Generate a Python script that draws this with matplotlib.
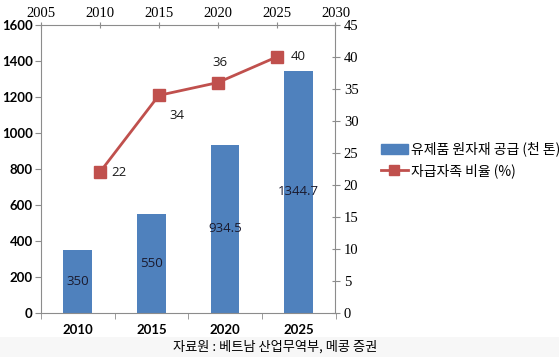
import matplotlib.pyplot as plt
from matplotlib.patches import Rectangle

# --- dados ---
anos = [2010, 2015, 2020, 2025]
rotulos_x = ['2010', '2015', '2020', '2025']
fornecimento = [350, 550, 934.5, 1344.7]
rotulos_barras = ['350', '550', '934.5', '1344.7']
autossuficiencia = [22, 34, 36, 40]

COR_BARRA = '#4f81bd'
COR_LINHA = '#c0504d'
COR_EIXO = '#8c8c8c'
KR = ['Noto Sans CJK KR', 'DejaVu Sans']

fig = plt.figure(figsize=(5.59, 3.57), dpi=100)
fig.patch.set_facecolor('white')
# faixa cinza clara da fonte
fig.patches.append(Rectangle((0, 0), 1, 1 - 337 / 357, transform=fig.transFigure,
                             facecolor='#f7f7f7', edgecolor='none', zorder=0))

pos = [41 / 559, 1 - 313 / 357, (335.5 - 41) / 559, (313 - 25) / 357]
ax1 = fig.add_axes(pos)
ax1.set_facecolor('none')

x = range(len(anos))
barras = ax1.bar(list(x), fornecimento, width=0.39, color=COR_BARRA, zorder=2)
for b, v, txt in zip(barras, fornecimento, rotulos_barras):
    ax1.text(b.get_x() + b.get_width() / 2, v / 2, txt, ha='center', va='center',
             fontsize=9.5, color='#1a1a2e', family='Open Sans', zorder=3)

ax1.set_xlim(-0.5, 3.5)
ax1.set_ylim(0, 1600)
ax1.set_yticks(range(0, 1601, 200))
ax1.set_xticks(list(x))
ax1.set_xticklabels(rotulos_x, fontsize=9.5, fontweight='bold', family='Lato')
ax1.set_xticks([-0.5, 0.5, 1.5, 2.5, 3.5], minor=True)
ax1.tick_params(axis='x', which='major', length=0, pad=8)
ax1.tick_params(axis='x', which='minor', length=4, color=COR_EIXO)
ax1.tick_params(axis='y', length=4, color=COR_EIXO, labelsize=9.5, pad=2)
for lbl in ax1.get_yticklabels():
    lbl.set_fontweight('bold')
    lbl.set_family('Lato')
for s in ax1.spines.values():
    s.set_color(COR_EIXO)
    s.set_linewidth(0.8)
ax1.spines['top'].set_visible(False)
ax1.spines['right'].set_visible(False)

# eixo secundário (anos no topo, % à direita)
ax2 = fig.add_axes(pos, frameon=False)
ax2.plot(anos, autossuficiencia, color=COR_LINHA, linewidth=2, marker='s',
         markersize=8, markerfacecolor=COR_LINHA, markeredgecolor=COR_LINHA, zorder=4)
ax2.set_xlim(2005, 2030)
ax2.set_ylim(0, 45)
ax2.set_xticks(range(2005, 2031, 5))
ax2.set_yticks(range(0, 46, 5))
ax2.xaxis.tick_top()
ax2.yaxis.tick_right()
ax2.tick_params(axis='x', direction='inout', length=5, color=COR_EIXO, labelsize=10.5, pad=1)
ax2.tick_params(axis='y', direction='inout', length=6, color=COR_EIXO, labelsize=10.5, pad=3)
for lbl in ax2.get_xticklabels() + ax2.get_yticklabels():
    lbl.set_family('Liberation Serif')
ax2.axhline(45, color=COR_EIXO, linewidth=0.8, clip_on=False)
ax2.axvline(2030, color=COR_EIXO, linewidth=0.8, clip_on=False)

# rótulos da linha
deslocamentos = [(8, 0, 'left', 'center'), (8, -10, 'left', 'top'),
                 (2, 10, 'center', 'bottom'), (10, 0, 'left', 'center')]
for a, v, (dx, dy, ha, va) in zip(anos, autossuficiencia, deslocamentos):
    ax2.annotate(str(v), (a, v), xytext=(dx, dy), textcoords='offset points',
                 ha=ha, va=va, fontsize=9.5, color='#1a1a1a', family='Open Sans')

# legenda
h_barra = Rectangle((0, 0), 1, 1, color=COR_BARRA)
h_linha, = ax2.plot([], [], color=COR_LINHA, linewidth=2, marker='s', markersize=7)
leg = fig.legend([h_barra, h_linha], ['유제품 원자재 공급 (천 톤)', '자급자족 비율 (%)'],
                 loc='center left', bbox_to_anchor=(368 / 559, 1 - 160 / 357),
                 frameon=False, prop={'family': KR, 'size': 10},
                 handlelength=2.0, handletextpad=0.2, labelspacing=0.5)

fig.text(275 / 559, 1 - 347 / 357, '자료원 : 베트남 산업무역부, 메콩 증권',
         ha='center', va='center', fontsize=9.5, family=KR)

fig.savefig('out.png', dpi=100)
